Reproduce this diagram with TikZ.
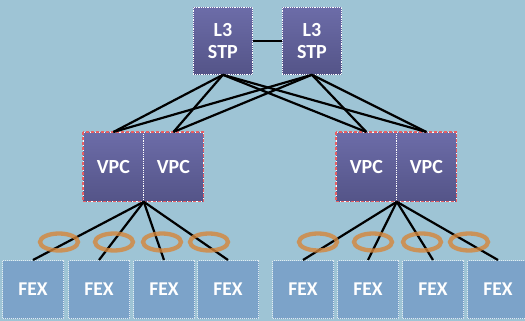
\documentclass[tikz,border=0pt]{standalone}
\usepackage{fontspec}
\setmainfont{Carlito}
\usetikzlibrary{positioning}
\definecolor{bgblue}{RGB}{158,196,213}
\definecolor{boxtop}{RGB}{108,108,168}
\definecolor{boxbot}{RGB}{84,84,136}
\definecolor{fexfill}{RGB}{124,163,201}
\definecolor{fexedge}{RGB}{226,236,244}
\definecolor{vpcred}{RGB}{232,96,100}
\definecolor{ringor}{RGB}{214,134,58}
\tikzset{
  x=1pt, y=-1pt,
  switchbox/.style={draw=white, densely dotted, line width=0.8pt,
    top color=boxtop, bottom color=boxbot, text=white,
    font=\bfseries\fontsize{20}{22}\selectfont, align=center,
    inner sep=0pt, anchor=north west},
  stpbox/.style={switchbox, minimum width=59pt, minimum height=67pt},
  vpcbox/.style={switchbox, minimum width=60pt, minimum height=69pt},
  fexbox/.style={draw=fexedge, densely dotted, line width=1pt, fill=fexfill,
    text=white, font=\bfseries\fontsize{19.5}{21}\selectfont,
    minimum width=61pt, minimum height=58pt, inner sep=0pt, anchor=north west},
  link/.style={draw=black, line width=2.2pt},
  vpcframe/.style={draw=vpcred, dash pattern=on 3pt off 2pt, line width=1.3pt},
  ring/.style={draw=ringor, line width=4.3pt, opacity=0.8}
}
\begin{document}
\begin{tikzpicture}
  \fill[bgblue] (0,0) rectangle (525,321);
  \useasboundingbox (0,0) rectangle (525,321);

  % spine pair
  \node[stpbox] (stpA) at (193,7) {L3\\STP};
  \node[stpbox] (stpB) at (282,7) {L3\\STP};
  \draw[link] (stpA.east) -- (stpB.west);

  % vPC pairs
  \node[vpcbox] (vpc1) at (83,132) {VPC};
  \node[vpcbox] (vpc2) at (143,132) {VPC};
  \node[vpcbox] (vpc3) at (336,132) {VPC};
  \node[vpcbox] (vpc4) at (396,132) {VPC};
  \draw[vpcframe] (vpc1.north west) rectangle (vpc2.south east);
  \draw[vpcframe] (vpc3.north west) rectangle (vpc4.south east);
  \coordinate (hubL) at (vpc1.south east);
  \coordinate (hubR) at (vpc3.south east);

  % fabric extenders
  \foreach \i/\x in {1/2,2/68,3/133,4/197,5/272,6/337,7/402,8/467}
    \node[fexbox] (fex\i) at (\x,260) {FEX};

  % uplinks from spines to vPC peers
  \foreach \s in {stpA,stpB}
    \foreach \v in {vpc1,vpc2,vpc3,vpc4}
      \draw[link] (\s.south) -- (\v.north);

  % downlinks to the extenders
  \foreach \i in {1,2,3,4}
    \draw[link] (hubL) -- (fex\i.north);
  \foreach \i in {5,6,7,8}
    \draw[link] (hubR) -- (fex\i.north);

  % port-channel rings
  \foreach \cx in {59,114,162,209,318,373,422,469}
    \draw[ring] (\cx,242) ellipse [x radius=19pt, y radius=8.5pt];
\end{tikzpicture}
\end{document}
